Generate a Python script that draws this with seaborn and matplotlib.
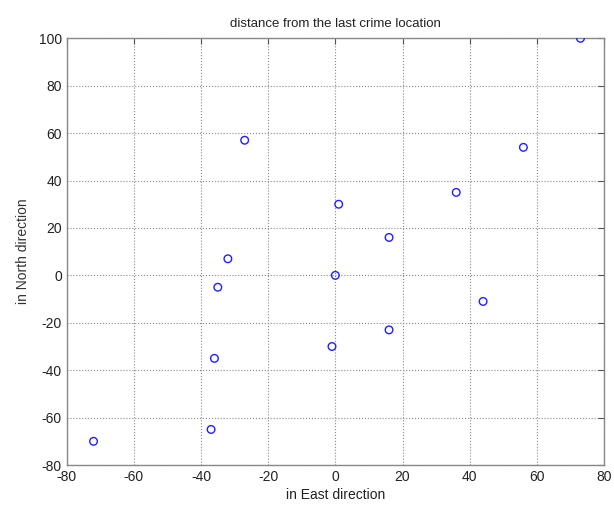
import matplotlib
matplotlib.use("Agg")
import matplotlib.pyplot as plt
import seaborn as sns
import pandas as pd

east = [73, 56, 36, 1, 16, -27, -32, -35, 0, 44, 16, -1, -36, -37, -72]
north = [100, 54, 35, 30, 16, 57, 7, -5, 0, -11, -23, -30, -35, -65, -70]
x_ticks = [-80, -60, -40, -20, 0, 20, 40, 60, 80]
y_ticks = [-80, -60, -40, -20, 0, 20, 40, 60, 80, 100]

df = pd.DataFrame({"east": east, "north": north})

sns.set_style("white")
plt.rcParams['font.family'] = ['Liberation Sans', 'DejaVu Sans']
plt.rcParams['axes.unicode_minus'] = False

fig = plt.figure(figsize=(6.14, 5.08), dpi=100)
ax = fig.add_axes([0.1086, 0.0846, 0.8751, 0.840])

sns.scatterplot(data=df, x="east", y="north", ax=ax, marker="o", s=30,
                facecolor="none", edgecolor="#2020ff", linewidth=1.0, zorder=3)

ax.set_xlim(-80, 80)
ax.set_ylim(-80, 100)
ax.set_xticks(x_ticks)
ax.set_yticks(y_ticks)
ax.tick_params(direction="in", length=4, width=0.8, colors="#555555",
               labelcolor="#222222", labelsize=10, top=True, right=True)
ax.grid(True, linestyle=":", color="#888888", linewidth=0.8)
for sp in ax.spines.values():
    sp.set_color("#888888")
    sp.set_linewidth(1.0)

ax.set_title("distance from the last crime location", fontsize=9.5, color="#222222", pad=8)
ax.set_xlabel("in East direction", fontsize=10, color="#222222", labelpad=3)
ax.set_ylabel("in North direction", fontsize=10, color="#333333", labelpad=6)

fig.savefig("out.png", dpi=100)
